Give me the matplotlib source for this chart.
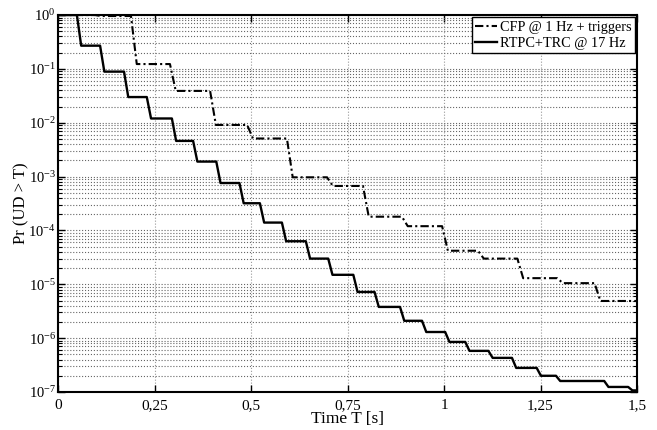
import numpy as np
import matplotlib
matplotlib.use('Agg')
import matplotlib.pyplot as plt
from matplotlib.ticker import FixedLocator, FixedFormatter, NullFormatter

plt.rcParams['font.family'] = ['Liberation Serif', 'DejaVu Serif']
plt.rcParams['mathtext.fontset'] = 'custom'
plt.rcParams['mathtext.rm'] = 'Liberation Serif'
plt.rcParams['mathtext.it'] = 'Liberation Serif:italic'

# RTPC+TRC @ 17 Hz : time where each step starts and level after it
rtpc_t = [0.049, 0.109, 0.171, 0.230, 0.295, 0.350, 0.410, 0.470, 0.523, 0.580,
          0.642, 0.700, 0.765, 0.820, 0.886, 0.943, 1.003, 1.055, 1.115, 1.176,
          1.240, 1.290, 1.415, 1.477]
rtpc_p = [0.27, 0.089, 0.030, 0.012, 4.6e-3, 1.9e-3, 7.6e-4, 3.2e-4, 1.4e-4, 6.3e-5,
          3.0e-5, 1.5e-5, 7.2e-6, 3.8e-6, 2.1e-6, 1.3e-6, 8.5e-7, 5.8e-7, 4.3e-7, 2.8e-7,
          2.0e-7, 1.6e-7, 1.24e-7, 1.07e-7]

# CFP @ 1 Hz + triggers
cfp_t = [0.096, 0.189, 0.290, 0.394, 0.490, 0.593, 0.697, 0.790, 0.891, 0.995,
         1.088, 1.190, 1.293, 1.390]
cfp_p = [0.96, 0.123, 0.039, 9.1e-3, 5.1e-3, 9.7e-4, 6.7e-4, 1.8e-4, 1.2e-4, 4.2e-5,
         3.0e-5, 1.3e-5, 1.05e-5, 4.9e-6]

xticks = [0, 0.25, 0.5, 0.75, 1, 1.25, 1.5]
xticklabels = ['0', '0,25', '0,5', '0,75', '1', '1,25', '1,5']
ydecades = [-7, -6, -5, -4, -3, -2, -1, 0]


def staircase(ts, ps, w, tend=1.5):
    # corner points of the step curve, drop takes w seconds
    xs, ys = [0.0], [1.0]
    prev = 1.0
    for t, p in zip(ts, ps):
        xs += [t, t + w]
        ys += [prev, p]
        prev = p
    xs.append(tend)
    ys.append(prev)
    return xs, ys


fig = plt.figure(figsize=(6.57, 4.30), dpi=100)
ax = fig.add_axes([0.0883, 0.0884, 0.8813, 0.8766])

xc, yc = staircase(cfp_t, cfp_p, 0.015)
xr, yr = staircase(rtpc_t, rtpc_p, 0.011)
ax.plot(xc, yc, color='black', lw=1.5, linestyle=(0, (4, 1.5, 1, 1.5)),
        label='CFP @ 1 Hz + triggers')
ax.plot(xr, yr, color='black', lw=1.7, label='RTPC+TRC @ 17 Hz')

ax.set_yscale('log')
ax.set_xlim(0, 1.5)
ax.set_ylim(1e-7, 1)
ax.xaxis.set_major_locator(FixedLocator(xticks))
ax.xaxis.set_major_formatter(FixedFormatter(xticklabels))
ymaj = [10.0 ** d for d in ydecades]
ymin = [m * 10.0 ** d for d in ydecades[:-1] for m in range(2, 10)]
ax.yaxis.set_major_locator(FixedLocator(ymaj))
ax.yaxis.set_major_formatter(FixedFormatter(['$10^{%d}$' % d for d in ydecades]))
ax.yaxis.set_minor_locator(FixedLocator(ymin))
ax.yaxis.set_minor_formatter(NullFormatter())

ax.grid(True, which='major', axis='x', color='#999999', linestyle=':', lw=0.8)
ax.grid(True, which='both', axis='y', color='#666666', linestyle=':', lw=0.8)

ax.tick_params(which='both', direction='in', top=True, right=True)
ax.tick_params(axis='x', pad=5, labelsize=11)
ax.tick_params(axis='y', pad=1.5, labelsize=10.5)
ax.tick_params(which='major', length=5, width=1)
ax.tick_params(which='minor', length=3, width=0.8)
for s in ax.spines.values():
    s.set_linewidth(1.5)

ax.set_xlabel('Time T [s]', fontsize=12.5, labelpad=-1)
ax.set_ylabel('Pr (UD > T)', fontsize=12)
ax.yaxis.set_label_coords(-0.05, 0.5)

leg = ax.legend(loc='upper right', fontsize=10.3, fancybox=False, framealpha=1,
                edgecolor='black', handlelength=1.5, handletextpad=0.2,
                borderpad=0.25, labelspacing=0.2, borderaxespad=0.15)
leg.get_frame().set_linewidth(1.0)

fig.savefig('out.png', dpi=100)
